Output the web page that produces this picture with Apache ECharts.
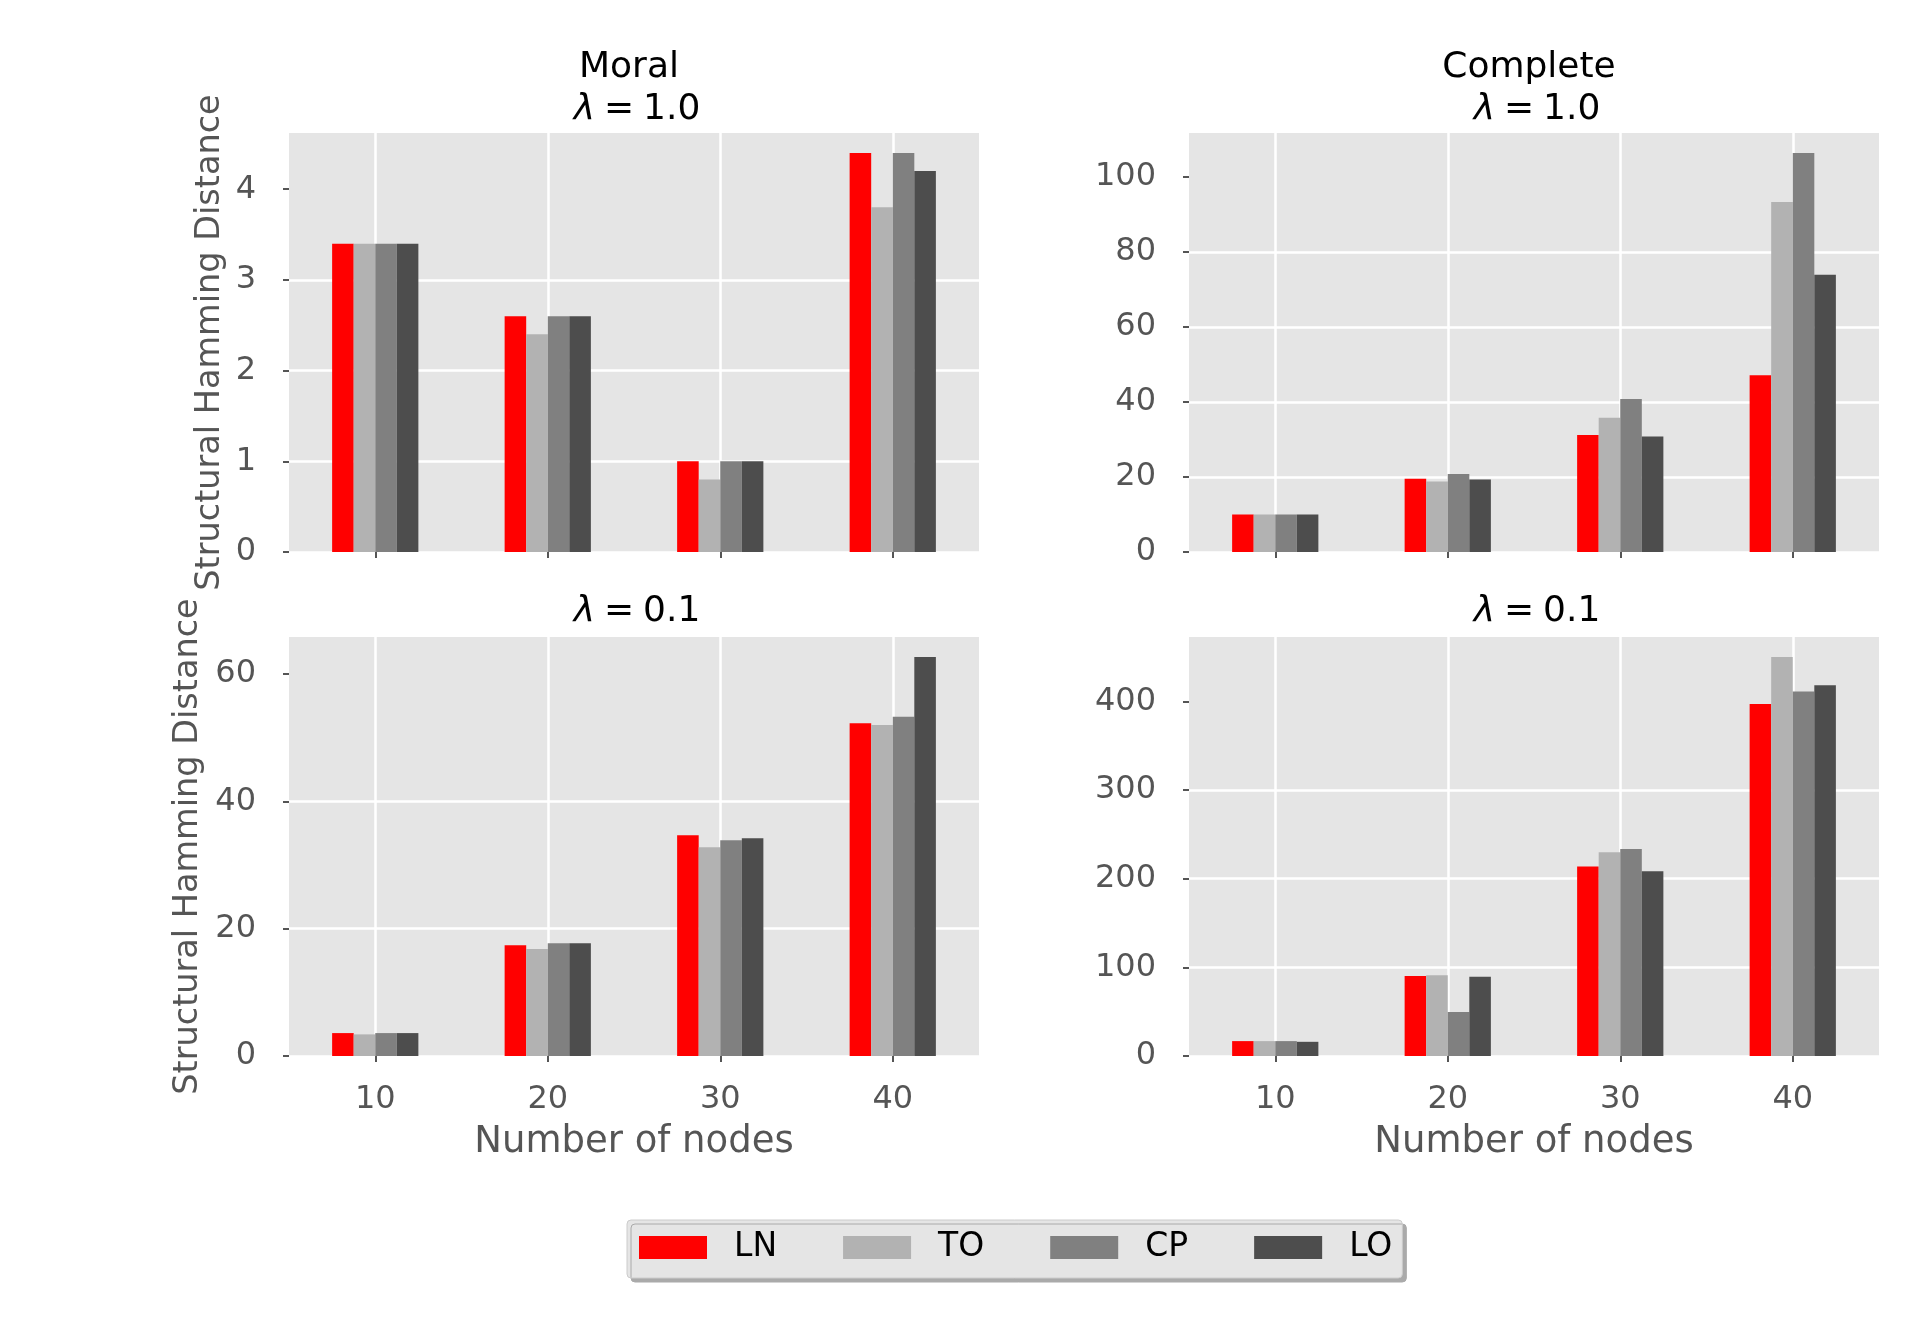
<!DOCTYPE html>
<html>
<head>
<meta charset="utf-8">
<script src="https://cdn.jsdelivr.net/npm/echarts@6/dist/echarts.min.js"></script>
<style>
  html, body { margin: 0; background: #fff; }
  #chart { width: 1920px; height: 1320px; }
</style>
</head>
<body>
<div id="chart"></div>
<script>
var nodes = ['10', '20', '30', '40'];
var methods = ['LN', 'TO', 'CP', 'LO'];
var colors = ['#ff0000', '#b2b2b2', '#808080', '#4d4d4d'];

// one row per method (LN, TO, CP, LO), one value per node count
var moralL1 = [
  [3.4, 2.6, 1.0, 4.4],
  [3.4, 2.4, 0.8, 3.8],
  [3.4, 2.6, 1.0, 4.4],
  [3.4, 2.6, 1.0, 4.2]
];
var completeL1 = [
  [10, 19.5, 31.2, 47.1],
  [10, 18.8, 35.8, 93.3],
  [10, 20.8, 40.8, 106.4],
  [10, 19.3, 30.8, 73.9]
];
var moralL01 = [
  [3.6, 17.4, 34.7, 52.3],
  [3.4, 16.8, 32.8, 52.0],
  [3.6, 17.7, 33.9, 53.3],
  [3.6, 17.7, 34.2, 62.7]
];
var completeL01 = [
  [16.8, 90.3, 213.8, 397],
  [16.8, 91.1, 229.8, 450],
  [16.8, 49.7, 233.3, 411],
  [16.0, 89.4, 208.2, 418]
];

var moralL1Ticks = [0, 1, 2, 3, 4];
var completeL1Ticks = [0, 20, 40, 60, 80, 100];
var moralL01Ticks = [0, 20, 40, 60];
var completeL01Ticks = [0, 100, 200, 300, 400];

var font = 'DejaVu Sans';
var chart = echarts.init(document.getElementById('chart'));

var panels = [
  { data: moralL1, ticks: moralL1Ticks, head: 'Moral', lam: '1.0', left: 289, top: 133, yName: true, nameGap: 62, xLabels: false },
  { data: completeL1, ticks: completeL1Ticks, head: 'Complete', lam: '1.0', left: 1189, top: 133, yName: false, xLabels: false },
  { data: moralL01, ticks: moralL01Ticks, head: null, lam: '0.1', left: 289, top: 637, yName: true, nameGap: 84, xLabels: true },
  { data: completeL01, ticks: completeL01Ticks, head: null, lam: '0.1', left: 1189, top: 637, yName: false, xLabels: true }
];
var gw = 690, gh = 419;

var grids = [], xAxes = [], yAxes = [], titles = [], series = [];
var titleStyle = {
  fontFamily: font, fontSize: 36, lineHeight: 42, color: '#000', fontWeight: 'normal',
  rich: { l: { fontFamily: font, fontSize: 36, lineHeight: 42, fontStyle: 'italic', color: '#000' } }
};

panels.forEach(function (p, i) {
  var maxVal = 0;
  p.data.forEach(function (row) {
    row.forEach(function (v) { maxVal = v > maxVal ? v : maxVal; });
  });

  grids.push({
    left: p.left, top: p.top, width: gw, height: gh,
    show: true, backgroundColor: '#e5e5e5', borderWidth: 0
  });

  if (p.head) {
    titles.push({
      text: p.head,
      left: p.left + gw / 2 - 5,
      top: 47,
      textAlign: 'center',
      padding: 0,
      textStyle: titleStyle
    });
  }
  titles.push({
    text: '{l|λ}\u2005=\u2005' + p.lam,
    left: p.left + gw / 2 + 3,
    top: p.head ? 89 : 591,
    textAlign: 'center',
    padding: 0,
    textStyle: titleStyle
  });

  xAxes.push({
    type: 'category',
    gridIndex: i,
    data: nodes,
    name: p.xLabels ? 'Number of nodes' : '',
    nameLocation: 'middle',
    nameGap: 68,
    nameTextStyle: { fontFamily: font, fontSize: 37, color: '#555555' },
    axisLine: { show: false },
    axisTick: { show: true, alignWithLabel: true, length: 6, lineStyle: { color: '#555555', width: 2 } },
    axisLabel: { show: p.xLabels, fontFamily: font, fontSize: 32, color: '#555555', margin: 28 },
    splitLine: { show: true, alignWithLabel: true, lineStyle: { color: '#ffffff', width: 2.5 } }
  });

  yAxes.push({
    type: 'value',
    gridIndex: i,
    min: 0,
    max: maxVal * 1.05,
    name: p.yName ? 'Structural Hamming Distance' : '',
    nameLocation: 'middle',
    nameGap: p.nameGap || 60,
    nameTextStyle: { fontFamily: font, fontSize: 33.5, color: '#555555' },
    axisLine: { show: false },
    axisTick: { show: true, length: 6, customValues: p.ticks, lineStyle: { color: '#555555', width: 2 } },
    axisLabel: { fontFamily: font, fontSize: 32, color: '#555555', margin: 33, customValues: p.ticks },
    splitLine: { show: true, showMaxLine: false, lineStyle: { color: '#ffffff', width: 2.5 } }
  });

  methods.forEach(function (m, j) {
    series.push({
      type: 'bar',
      name: m,
      xAxisIndex: i,
      yAxisIndex: i,
      data: p.data[j],
      barWidth: '12.5%',
      barGap: '0%',
      itemStyle: { color: colors[j] }
    });
  });
});

chart.setOption({
  animation: false,
  backgroundColor: '#ffffff',
  textStyle: { fontFamily: font },
  title: titles,
  grid: grids,
  xAxis: xAxes,
  yAxis: yAxes,
  legend: {
    data: methods,
    left: 627,
    top: 1220,
    icon: 'rect',
    itemWidth: 68,
    itemHeight: 23,
    itemGap: 66,
    padding: [11, 10, 14, 12],
    backgroundColor: '#e5e5e5',
    borderColor: '#cccccc',
    borderWidth: 1,
    borderRadius: 4,
    shadowColor: '#aaaaaa',
    shadowBlur: 0,
    shadowOffsetX: 4,
    shadowOffsetY: 4,
    textStyle: { fontFamily: font, fontSize: 33, color: '#000', lineHeight: 23, padding: [0, 0, 0, 22] }
  },
  series: series
});
</script>
</body>
</html>
